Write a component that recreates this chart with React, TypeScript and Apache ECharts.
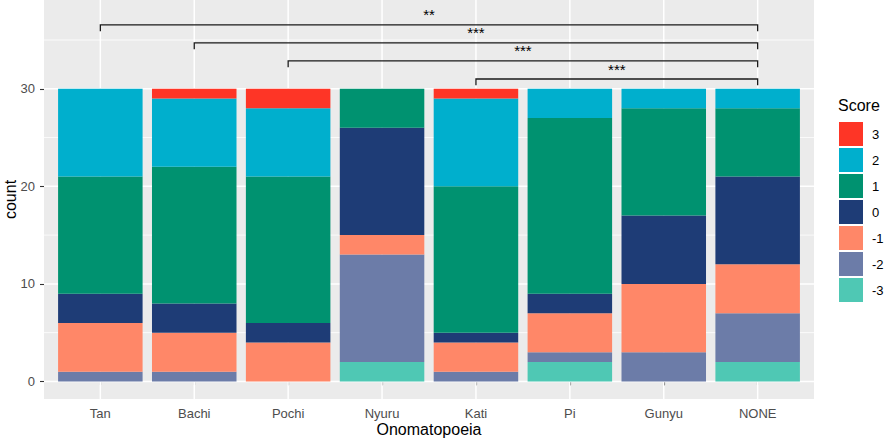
import React, { useEffect, useRef } from "react";
import * as echarts from "echarts";

const categories = ["Tan", "Bachi", "Pochi", "Nyuru", "Kati", "Pi", "Gunyu", "NONE"];
const scoreNames = ["-3", "-2", "-1", "0", "1", "2", "3"];
const scoreM3 = [0, 0, 0, 2, 0, 2, 0, 2];
const scoreM2 = [1, 1, 0, 11, 1, 1, 3, 5];
const scoreM1 = [5, 4, 4, 2, 3, 4, 7, 5];
const score0 = [3, 3, 2, 11, 1, 2, 7, 9];
const score1 = [12, 14, 15, 4, 15, 18, 11, 7];
const score2 = [9, 7, 7, 0, 9, 3, 2, 2];
const score3 = [0, 1, 2, 0, 1, 0, 0, 0];
const scoreColors = ["#4FC8B4", "#6C7CA8", "#FF8768", "#1E3C76", "#009270", "#00AFCD", "#FE3526"];

const yTicks = [0, 10, 20, 30];
const yMinor = [5, 15, 25, 35];

const bracketStart = ["Tan", "Bachi", "Pochi", "Kati"];
const bracketEnd = ["NONE", "NONE", "NONE", "NONE"];
const bracketY = [36.55, 34.7, 32.85, 31.0];
const bracketLabel = ["**", "***", "***", "***"];

const FONT = '"Liberation Sans", Arial, Helvetica, sans-serif';

export default function App() {
  const ref = useRef<HTMLDivElement>(null);
  useEffect(() => {
    document.body.style.margin = "0";
    const chart = echarts.init(ref.current!, null, { renderer: "svg" });
    const yMin = -1.8;
    const yMax = 39.1;
    const panelLeft = 44;
    const panelWidth = 770;
    const band = panelWidth / (categories.length - 1 + 1.2);
    const values = [scoreM3, scoreM2, scoreM1, score0, score1, score2, score3];

    const barSeries = scoreNames.map((name, i) => ({
      type: "bar",
      name,
      stack: "total",
      xAxisIndex: 1,
      yAxisIndex: 1,
      barWidth: "90%",
      data: values[i],
      itemStyle: { color: scoreColors[i] },
      emphasis: { disabled: true },
      z: 3,
    }));

    const hLine = (width: number) => (params: any, api: any) => {
      const v = api.value(1);
      const p1 = api.coord([0, v]);
      const p2 = api.coord([1, v]);
      return {
        type: "line",
        shape: { x1: p1[0], y1: p1[1], x2: p2[0], y2: p2[1] },
        style: { stroke: "#FFFFFF", lineWidth: width },
      };
    };

    const option: any = {
      animation: false,
      textStyle: { fontFamily: FONT },
      title: {
        text: "Score",
        left: 838,
        top: 97,
        padding: 0,
        textStyle: { fontSize: 16, fontWeight: "normal", color: "#000", fontFamily: FONT },
      },
      legend: {
        data: scoreNames.slice().reverse(),
        orient: "vertical",
        left: 839,
        top: 122,
        padding: 0,
        itemWidth: 24,
        itemHeight: 24,
        itemGap: 2,
        icon: "rect",
        selectedMode: false,
        textStyle: { fontSize: 13, color: "#000", fontFamily: FONT, padding: [0, 0, 0, 4] },
      },
      grid: [
        {
          left: panelLeft,
          top: 0,
          width: panelWidth,
          height: 399,
          show: true,
          backgroundColor: "#EBEBEB",
          borderWidth: 0,
          containLabel: false,
          outerBoundsMode: "none",
        },
        {
          left: panelLeft + 0.1 * band,
          top: 0,
          width: band * categories.length,
          height: 399,
          containLabel: false,
          outerBoundsMode: "none",
        },
      ],
      xAxis: [
        { type: "value", gridIndex: 0, min: 0, max: 1, show: false },
        {
          type: "category",
          gridIndex: 1,
          data: categories,
          boundaryGap: true,
          axisLine: { show: false },
          axisTick: { show: true, alignWithLabel: true, length: 4, lineStyle: { color: "#333333", width: 1.1 } },
          axisLabel: { fontSize: 13, color: "#4D4D4D", margin: 8, fontFamily: FONT },
          splitLine: { show: false },
          name: "Onomatopoeia",
          nameLocation: "middle",
          nameGap: 22,
          nameMoveOverlap: false,
          nameTextStyle: { fontSize: 16, color: "#000", fontFamily: FONT },
        },
      ],
      yAxis: [
        {
          type: "value",
          gridIndex: 0,
          min: yMin,
          max: yMax,
          axisLine: { show: false },
          axisTick: { show: true, length: 4, customValues: yTicks, lineStyle: { color: "#333333", width: 1.1 } },
          axisLabel: { fontSize: 13, color: "#4D4D4D", margin: 9, customValues: yTicks, fontFamily: FONT },
          splitLine: { show: false },
          name: "count",
          nameLocation: "middle",
          nameGap: 26,
          nameRotate: 90,
          nameMoveOverlap: false,
          nameTextStyle: { fontSize: 16, color: "#000", fontFamily: FONT },
        },
        { type: "value", gridIndex: 1, min: yMin, max: yMax, show: false, splitLine: { show: false } },
      ],
      series: [
        {
          type: "custom",
          xAxisIndex: 0,
          yAxisIndex: 0,
          data: yMinor.map((v) => [0, v]),
          encode: { x: 0, y: 1 },
          renderItem: hLine(0.8),
          silent: true,
          z: 1,
        },
        {
          type: "custom",
          xAxisIndex: 0,
          yAxisIndex: 0,
          data: yTicks.map((v) => [0, v]),
          encode: { x: 0, y: 1 },
          renderItem: hLine(1.5),
          silent: true,
          z: 1,
        },
        {
          type: "custom",
          xAxisIndex: 1,
          yAxisIndex: 1,
          data: categories.map((c, i) => [i, 0]),
          encode: { x: 0, y: 1 },
          silent: true,
          z: 1,
          renderItem: (params: any, api: any) => {
            const p = api.coord([api.value(0), 0]);
            const cs = params.coordSys;
            return {
              type: "line",
              shape: { x1: p[0], y1: cs.y, x2: p[0], y2: cs.y + cs.height },
              style: { stroke: "#FFFFFF", lineWidth: 1.5 },
            };
          },
        },
        ...barSeries,
        {
          type: "custom",
          xAxisIndex: 1,
          yAxisIndex: 1,
          silent: true,
          z: 5,
          clip: false,
          data: bracketY.map((y, i) => [categories.indexOf(bracketStart[i]), categories.indexOf(bracketEnd[i]), y]),
          encode: { x: [0, 1], y: 2 },
          renderItem: (params: any, api: any) => {
            const s = api.value(0);
            const e = api.value(1);
            const y = api.value(2);
            const a = api.coord([s, y]);
            const b = api.coord([e, y]);
            const at = api.coord([s, y - 0.65]);
            const bt = api.coord([e, y - 0.65]);
            return {
              type: "group",
              children: [
                {
                  type: "polyline",
                  shape: { points: [[at[0], at[1]], [a[0], a[1]], [b[0], b[1]], [bt[0], bt[1]]] },
                  style: { stroke: "#1A1A1A", lineWidth: 1.3, fill: "none" },
                },
                {
                  type: "text",
                  style: {
                    text: bracketLabel[params.dataIndex],
                    x: (a[0] + b[0]) / 2,
                    y: a[1] - 10,
                    align: "center",
                    verticalAlign: "middle",
                    fill: "#000",
                    font: `15px ${FONT}`,
                  },
                },
              ],
            };
          },
        },
      ],
    };
    chart.setOption(option);
    return () => chart.dispose();
  }, []);
  return <div ref={ref} style={{ width: 886, height: 441 }} />;
}
